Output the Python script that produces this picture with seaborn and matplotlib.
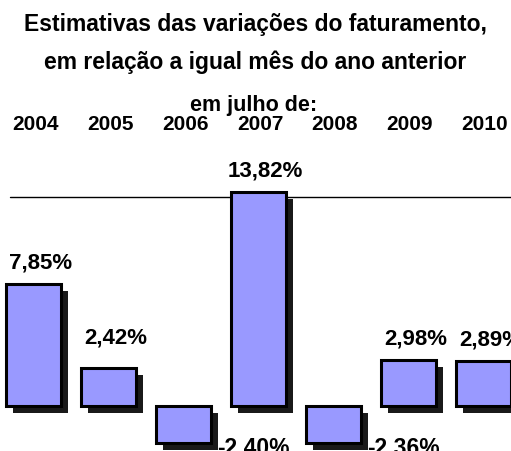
import matplotlib
matplotlib.use('Agg')
import matplotlib.pyplot as plt
import matplotlib.patheffects as pe
import seaborn as sns
import pandas as pd

years = ["2004", "2005", "2006", "2007", "2008", "2009", "2010"]
values = [7.85, 2.42, -2.40, 13.82, -2.36, 2.98, 2.89]
labels = ["7,85%", "2,42%", "-2,40%", "13,82%", "-2,36%", "2,98%", "2,89%"]

title_lines = ["Estimativas das variações do faturamento,",
               "em relação a igual mês do ano anterior"]
subtitle = "em julho de:"

df = pd.DataFrame({"ano": years, "variacao": values})

sns.set_style("white")
plt.rcParams['font.family'] = ['Liberation Sans', 'DejaVu Sans']
plt.rcParams['text.color'] = 'black'

fig = plt.figure(figsize=(5.11, 4.52), dpi=100)
ax = fig.add_axes([0, 0, 1, 1])

sns.barplot(data=df, x="ano", y="variacao", color="#9999ff", saturation=1,
            edgecolor="black", linewidth=2.2, width=0.73, ax=ax)

shadow = [pe.SimplePatchShadow(offset=(5, -5), shadow_rgbFace="black", alpha=0.9),
          pe.Normal()]
for bar in ax.patches:
    bar.set_path_effects(shadow)

# pixel layout of the original: bar 0 centred at 33.5 px, 75 px apart, baseline at 407 px, 15.5 px per %
ax.set_xlim(-0.447, 6.367)
ax.set_ylim(-2.903, 26.26)
ax.axis("off")

ax.plot([-0.313, 6.367], [13.48, 13.48], color="black", lw=1, zorder=0.5)

for i, (v, txt) in enumerate(zip(values, labels)):
    if v >= 0:
        dy = -22 if i != 1 else -31
        ax.annotate(txt, (i, v), xytext=(7 * 0.72, -dy * 0.72), textcoords="offset points",
                    ha="center", va="center", fontsize=16, fontweight="bold", color="black")
    else:
        ax.annotate(txt, (i + 0.365, v), xytext=(6 * 0.72, -4 * 0.72), textcoords="offset points",
                    ha="left", va="center", fontsize=16.5, fontweight="bold", color="black")

trans = ax.get_xaxis_transform()
for i, y in enumerate(years):
    ax.text(i + 0.02, 1 - 124 / 452, y, transform=trans, ha="center", va="center",
            fontsize=15, fontweight="bold", color="black")

for line, ypx in zip(title_lines, [25, 62]):
    fig.text(0.5, 1 - ypx / 452, line, ha="center", va="center", fontsize=16.5,
             fontweight="bold", color="black")
fig.text(254 / 511, 1 - 105 / 452, subtitle, ha="center", va="center", fontsize=15.5,
         fontweight="bold", color="black")

fig.savefig("out.png", dpi=100)
